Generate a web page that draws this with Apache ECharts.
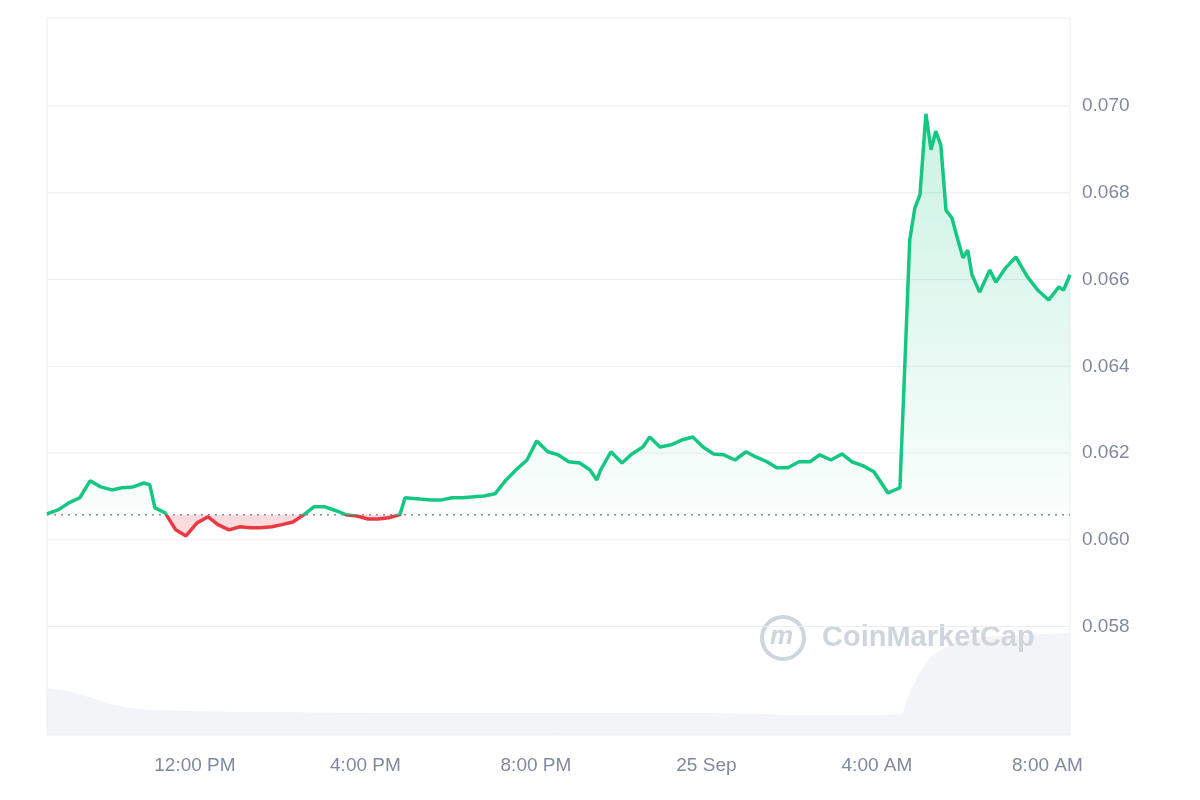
<!DOCTYPE html>
<html>
<head>
<meta charset="utf-8">
<script src="https://cdn.jsdelivr.net/npm/echarts@6/dist/echarts.min.js"></script>
<style>html,body{margin:0;background:#fff}#main{width:1200px;height:800px}</style>
</head>
<body>
<div id="main"></div>
<script>
// hours since 24 Sep 00:00
var times = [8.53,8.79,9.04,9.30,9.54,9.79,10.05,10.29,10.55,10.80,10.94,11.06,11.30,11.55,11.79,12.05,12.31,12.54,12.80,13.06,13.29,13.55,13.81,14.04,14.30,14.56,14.79,15.05,15.31,15.54,15.80,16.06,16.29,16.55,16.81,16.93,17.28,17.54,17.79,18.03,18.29,18.54,18.78,19.04,19.30,19.53,19.79,20.02,20.28,20.52,20.77,21.03,21.27,21.43,21.52,21.76,22.02,22.25,22.51,22.67,22.91,23.17,23.42,23.68,23.92,24.17,24.41,24.67,24.93,25.16,25.42,25.65,25.91,26.17,26.43,26.66,26.92,27.18,27.41,27.67,27.93,28.26,28.54,28.66,28.77,28.89,29.01,29.15,29.27,29.38,29.50,29.62,29.76,29.90,30.02,30.13,30.23,30.41,30.65,30.79,31.02,31.26,31.52,31.77,32.03,32.27,32.38,32.53];
var prices = [0.06060,0.06069,0.06085,0.06097,0.06136,0.06122,0.06115,0.06120,0.06122,0.06131,0.06127,0.06074,0.06062,0.06023,0.06009,0.06039,0.06053,0.06035,0.06023,0.06030,0.06028,0.06028,0.06030,0.06035,0.06041,0.06058,0.06076,0.06076,0.06067,0.06058,0.06055,0.06048,0.06048,0.06051,0.06058,0.06097,0.06094,0.06092,0.06092,0.06097,0.06097,0.06099,0.06101,0.06106,0.06138,0.06161,0.06184,0.06228,0.06203,0.06196,0.06180,0.06177,0.06161,0.06138,0.06161,0.06203,0.06177,0.06198,0.06214,0.06237,0.06214,0.06219,0.06230,0.06237,0.06214,0.06198,0.06196,0.06184,0.06203,0.06191,0.06180,0.06166,0.06166,0.06180,0.06180,0.06196,0.06184,0.06198,0.06180,0.06171,0.06157,0.06108,0.06120,0.06415,0.06691,0.06765,0.06795,0.06982,0.06899,0.06942,0.06910,0.06760,0.06742,0.06691,0.06650,0.06668,0.06611,0.06571,0.06622,0.06594,0.06627,0.06652,0.06608,0.06576,0.06553,0.06583,0.06576,0.06611];
var basePrice = 0.06058;
var volTimes = [8.53,9.0,9.5,10.0,10.5,11.0,12.0,13.0,14.0,16.0,20.0,24.0,25.2,26.0,28.0,28.6,28.65,28.8,29.0,29.3,29.8,30.5,31.5,32.53];
var volValues = [47,44,38,31,27,25,24,23,23,22,22,22,21,20,20,21,28,45,62,80,92,98,100,102];
var tickHours = [12,16,20,24,28,32];
var tickNames = ['12:00 PM','4:00 PM','8:00 PM','25 Sep','4:00 AM','8:00 AM'];
var priceTicks = [0.058,0.060,0.062,0.064,0.066,0.068,0.070];

var line = [], above = [], below = [], vol = [], gridSeries = [];
for (var i = 0; i < times.length; i++) {
  line.push([times[i], prices[i]]);
  above.push([times[i], Math.max(prices[i], basePrice)]);
  below.push([times[i], Math.min(prices[i], basePrice)]);
}
for (var j = 0; j < volTimes.length; j++) vol.push([volTimes[j], volValues[j]]);
// horizontal grid lines at the labelled price ticks
for (var k = 0; k < priceTicks.length; k++) {
  gridSeries.push({type: 'line', xAxisIndex: 0, yAxisIndex: 0, silent: true, showSymbol: false, z: 1,
    data: [[8.53, priceTicks[k]], [32.53, priceTicks[k]]], lineStyle: {color: '#eceef1', width: 1}});
}

var font = 'Liberation Sans';
var chart = echarts.init(document.getElementById('main'));
chart.setOption({
  animation: false,
  grid: [
    {left: 47, right: 130, top: 18, bottom: 65, show: true, borderColor: '#eceef1', borderWidth: 1},
    {left: 47, right: 130, top: 630, bottom: 65}
  ],
  xAxis: [
    {type: 'value', gridIndex: 0, min: 8.53, max: 32.53, show: false},
    {type: 'value', gridIndex: 1, min: 8.53, max: 32.53, axisLine: {show: false}, splitLine: {show: false},
     axisTick: {show: false},
     axisLabel: {customValues: tickHours, margin: 21, color: '#808a9d', fontSize: 19, fontFamily: font,
       formatter: function (v) { return tickNames[tickHours.indexOf(Math.round(v))] || ''; }}}
  ],
  yAxis: [
    {type: 'value', gridIndex: 0, position: 'right', min: 0.0555, max: 0.07203,
     axisLine: {show: false}, axisTick: {show: false}, splitLine: {show: false},
     axisLabel: {customValues: priceTicks, margin: 12, color: '#808a9d', fontSize: 19, fontFamily: font,
       formatter: function (v) { return v.toFixed(3); }}},
    {type: 'value', gridIndex: 1, min: 0, max: 105, show: false}
  ],
  visualMap: {
    show: false, seriesIndex: 2, dimension: 1,
    pieces: [{min: 0, max: basePrice, color: '#ea3943'}, {min: basePrice, max: 1, color: '#16c784'}]
  },
  graphic: [
    {type: 'circle', shape: {cx: 783, cy: 638, r: 21}, style: {fill: 'none', stroke: '#cfd5dd', lineWidth: 4}, z: 1},
    {type: 'text', x: 770, y: 624, style: {text: 'm', fill: '#cfd5dd', font: 'italic bold 26px ' + font}, z: 1},
    {type: 'text', x: 822, y: 623, style: {text: 'CoinMarketCap', fill: '#cfd5dd', font: 'bold 29px ' + font}, z: 1}
  ],
  series: [
    {type: 'line', xAxisIndex: 0, yAxisIndex: 0, data: above, showSymbol: false, lineStyle: {width: 0},
     areaStyle: {origin: basePrice, color: new echarts.graphic.LinearGradient(0, 0, 0, 1, [
       {offset: 0, color: 'rgba(22,199,132,0.32)'}, {offset: 1, color: 'rgba(22,199,132,0.03)'}])}},
    {type: 'line', xAxisIndex: 0, yAxisIndex: 0, data: below, showSymbol: false, lineStyle: {width: 0},
     areaStyle: {origin: basePrice, color: 'rgba(234,57,67,0.25)'}},
    {type: 'line', xAxisIndex: 0, yAxisIndex: 0, data: line, showSymbol: false, lineStyle: {width: 3.5}, z: 5},
    {type: 'line', xAxisIndex: 0, yAxisIndex: 0, data: [[8.53, basePrice], [32.53, basePrice]], showSymbol: false,
     lineStyle: {color: '#8a8f99', type: [2, 5], width: 1.5}, z: 3},
    {type: 'line', xAxisIndex: 1, yAxisIndex: 1, data: vol, showSymbol: false,
     lineStyle: {width: 0}, areaStyle: {color: '#eceff4'}, z: 0}
  ].concat(gridSeries)
});
</script>
</body>
</html>
